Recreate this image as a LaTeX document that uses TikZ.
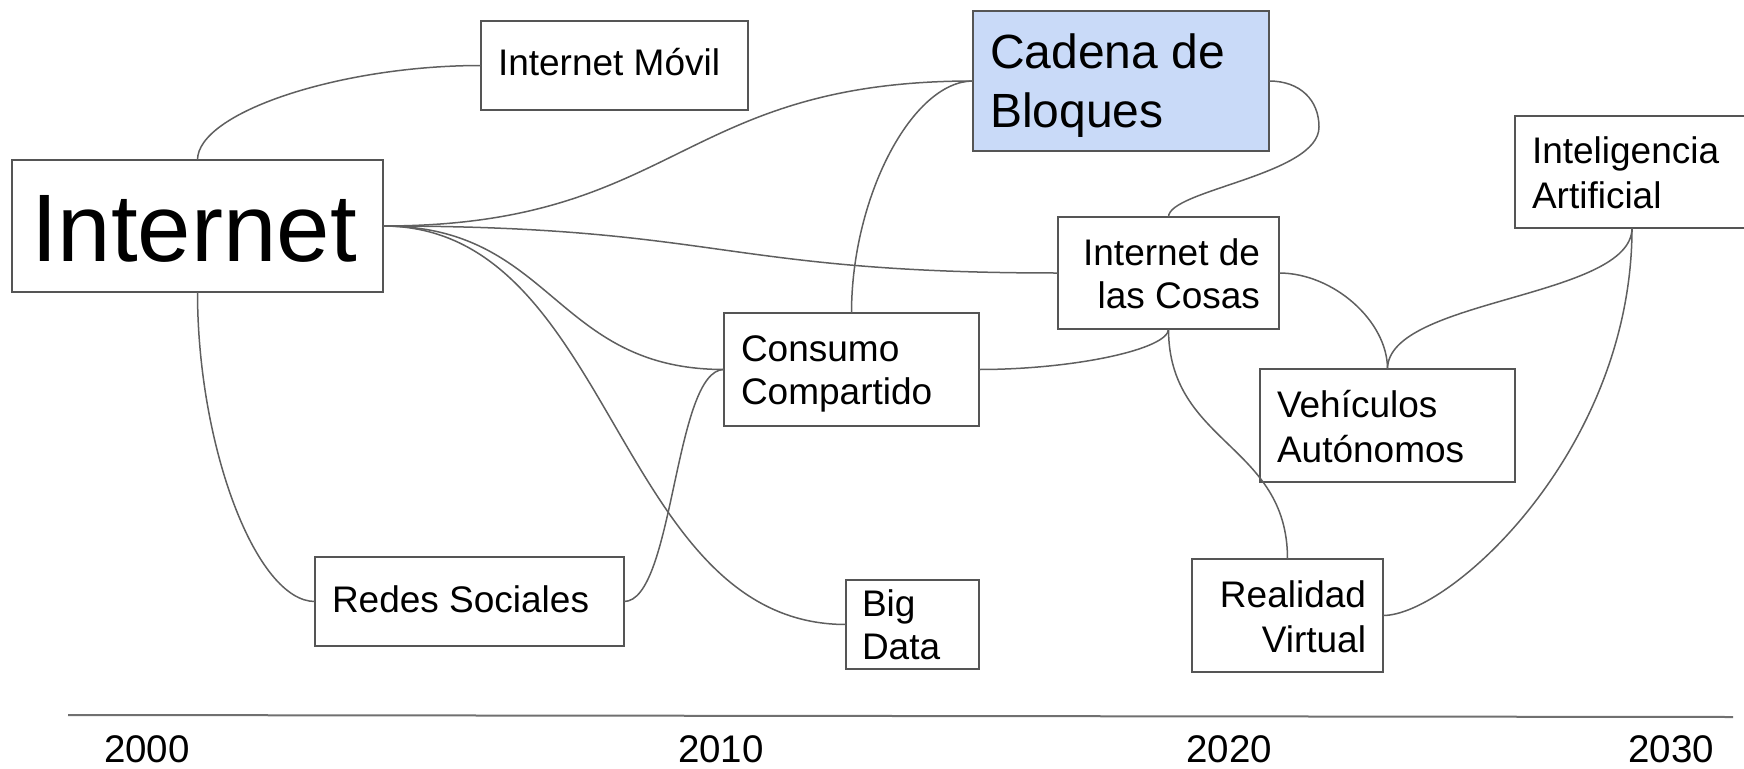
\documentclass[tikz,border=0pt]{standalone}
\usepackage{fontspec}
\setmainfont{Liberation Sans}
\usetikzlibrary{calc}
\definecolor{bordergray}{HTML}{555555}
\definecolor{linegray}{HTML}{5F5F5F}
\definecolor{axisgray}{HTML}{707070}
\definecolor{chainblue}{HTML}{C9DAF8}
\begin{document}
\begin{tikzpicture}[x=1pt,y=-1pt,
  box/.style={draw=bordergray, line width=1.8pt, rectangle, inner sep=0pt, outer sep=0pt},
  conn/.style={draw=linegray, line width=1.5pt},
  lbl/.style={inner sep=0pt, outer sep=0pt, font=\fontsize{37}{44}\selectfont},
  lblbig/.style={inner sep=0pt, outer sep=0pt, font=\fontsize{48}{58}\selectfont},
  lblhuge/.style={inner sep=0pt, outer sep=0pt, font=\fontsize{96}{110}\selectfont},
  lblyear/.style={inner sep=0pt, outer sep=0pt, font=\fontsize{38.5}{46}\selectfont},
  hh/.style={to path={let \p1=(\tikztostart), \p2=(\tikztotarget) in
     .. controls ({(\x1+\x2)/2},\y1) and ({(\x1+\x2)/2},\y2) .. (\tikztotarget)}},
  vv/.style={to path={let \p1=(\tikztostart), \p2=(\tikztotarget) in
     .. controls (\x1,{(\y1+\y2)/2}) and (\x2,{(\y1+\y2)/2}) .. (\tikztotarget)}},
  vh/.style={to path={let \p1=(\tikztostart), \p2=(\tikztotarget) in
     .. controls (\x1,{(\y1+\y2)/2}) and ({(\x1+\x2)/2},\y2) .. (\tikztotarget)}},
  hv/.style={to path={let \p1=(\tikztostart), \p2=(\tikztotarget) in
     .. controls ({(\x1+\x2)/2},\y1) and (\x2,{(\y1+\y2)/2}) .. (\tikztotarget)}}
]
\useasboundingbox (0,0) rectangle (1744,768);

% boxes
\node[box, minimum width=371pt, minimum height=132pt] (inet) at (197.5,226) {};
\node[box, minimum width=267pt, minimum height=89pt] (movil) at (614.5,65.5) {};
\node[box, fill=chainblue, minimum width=296pt, minimum height=140pt] (cadena) at (1121,81) {};
\node[box, minimum width=234pt, minimum height=112pt] (ia) at (1632,172) {};
\node[box, minimum width=221pt, minimum height=112pt] (iot) at (1168.5,273) {};
\node[box, minimum width=255pt, minimum height=113pt] (consumo) at (851.5,369.5) {};
\node[box, minimum width=309pt, minimum height=89pt] (redes) at (469.5,601.5) {};
\node[box, minimum width=133pt, minimum height=89pt] (bigdata) at (912.5,624.5) {};
\node[box, minimum width=255pt, minimum height=113pt] (veh) at (1387.5,425.5) {};
\node[box, minimum width=191pt, minimum height=113pt] (rv) at (1287.5,615.5) {};

% texts
\node[lblhuge, anchor=base] (inet-t) at (194,261) {Internet};
\node[lbl, anchor=base west] (movil-t) at (498,75) {Internet Móvil};
\node[lblbig, anchor=base west] (cadena-t1) at (990,69) {Cadena de};
\node[lblbig, anchor=base west] (cadena-t2) at (990,127) {Bloques};
\node[lbl, anchor=base east] (iot-t1) at (1260,265) {Internet de};
\node[lbl, anchor=base east] (iot-t2) at (1260,308) {las Cosas};
\node[lbl, anchor=base west] (consumo-t1) at (741,361) {Consumo};
\node[lbl, anchor=base west] (consumo-t2) at (741,404) {Compartido};
\node[lbl, anchor=base west] (redes-t) at (332,612) {Redes Sociales};
\node[lbl, anchor=base west] (bigdata-t1) at (862,616) {Big};
\node[lbl, anchor=base west] (bigdata-t2) at (862,659) {Data};
\node[lbl, anchor=base west] (veh-t1) at (1277,417) {Vehículos};
\node[lbl, anchor=base west] (veh-t2) at (1277,462) {Autónomos};
\node[lbl, anchor=base east] (rv-t1) at (1366,607) {Realidad};
\node[lbl, anchor=base east] (rv-t2) at (1366,652) {Virtual};
\node[lbl, anchor=base west] (ia-t1) at (1532,163) {Inteligencia};
\node[lbl, anchor=base west] (ia-t2) at (1532,208) {Artificial};

% connectors
\draw[conn] (inet.north) to[vh] (movil.west);
\draw[conn] (inet.east) to[hh] (cadena.west);
\draw[conn] (inet.east) to[hh] (iot.west);
\draw[conn] (inet.east) to[hh] (consumo.west);
\draw[conn] (inet.east) to[hh] (bigdata.west);
\draw[conn] (inet.south) to[vh] (redes.west);
\draw[conn] (redes.east) to[hh] (consumo.west);
\draw[conn] (consumo.north) to[vh] (cadena.west);
\draw[conn] (consumo.east) to[hv] (iot.south);
\coordinate (cloop) at (1319,127);
\draw[conn] (cadena.east) .. controls +(31,0) and +(0,-27) .. (cloop)
            .. controls +(0,48) and +(0,-27) .. (iot.north);
\draw[conn] (iot.south) to[vv] (rv.north);
\draw[conn] (iot.east) to[hv] (veh.north);
\draw[conn] (ia.south) to[vv] (veh.north);
\draw[conn] (ia.south) .. controls +(0,222) and +(67,0) .. (rv.east);

% timeline
\coordinate (tl0) at (68,715);
\coordinate (tl1) at (1733,717);
\draw[draw=axisgray, line width=2pt] (tl0) -- (tl1);
\node[lblyear, anchor=base] (y2000) at (147,762) {2000};
\node[lblyear, anchor=base] (y2010) at (721,762) {2010};
\node[lblyear, anchor=base] (y2020) at (1229,762) {2020};
\node[lblyear, anchor=base] (y2030) at (1671,762) {2030};
\end{tikzpicture}
\end{document}
